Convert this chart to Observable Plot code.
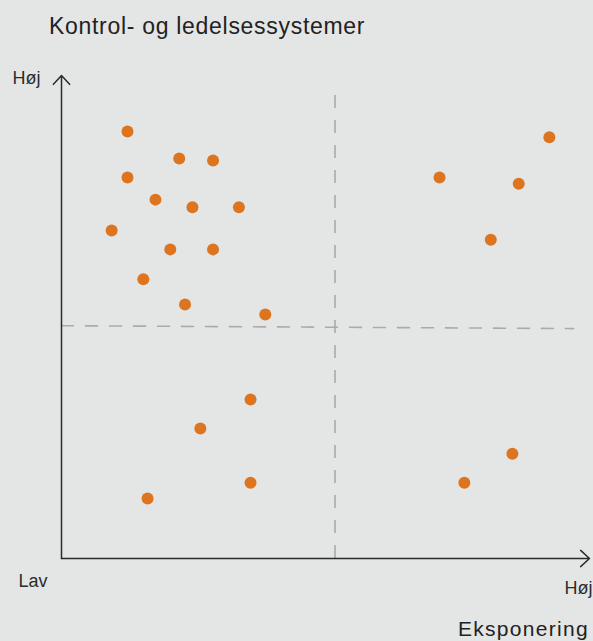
<!DOCTYPE html>
<html>
<head>
<meta charset="utf-8">
<script src="https://cdn.jsdelivr.net/npm/d3@7"></script>
<script src="https://cdn.jsdelivr.net/npm/@observablehq/plot@0.6"></script>
<style>
  html, body { margin: 0; padding: 0; background: #e4e6e5; }
  body { width: 593px; height: 641px; overflow: hidden; font-family: "Liberation Sans", Arial, sans-serif; color: #222; }
  #title { height: 50px; line-height: 50px; padding-top: 1px; padding-left: 49px; font-size: 23px; letter-spacing: 0.7px; box-sizing: border-box; }
  #chart { height: 560px; }
  #caption { height: 31px; padding-top: 7px; line-height: 24px; text-align: right; padding-right: 4px; font-size: 21px; letter-spacing: 1.3px; box-sizing: border-box; }
  svg { display: block; }
</style>
</head>
<body>
<div id="title">Kontrol- og ledelsessystemer</div>
<div id="chart"></div>
<div id="caption">Eksponering</div>
<script>
// Dot positions (0–100 on both axes: exposure, control/management systems)
const exposure = [12.5, 22.3, 28.7, 12.5, 17.8, 24.8, 33.6, 9.5, 20.6, 28.7, 15.5, 23.4, 38.6,
                  92.4, 71.6, 86.6, 81.3,
                  35.8, 26.3, 35.8, 16.3,
                  85.4, 76.3];
const control  = [88.4, 82.8, 82.4, 78.9, 74.3, 72.7, 72.7, 67.9, 64.0, 64.0, 57.8, 52.6, 50.5,
                  87.2, 78.9, 77.6, 66.0,
                  32.9, 26.9, 15.7, 12.4,
                  21.7, 15.7];
// Quadrant divider lines
const dividerX = 51.8;
const dividerXTop = 96.3;
const dividerHx = [0, 97];
const dividerHy = [48.2, 47.6];
// Axis end labels
const axisLabels = ["Høj", "Lav", "Høj"];

const points = exposure.map((x, i) => ({x, y: control[i]}));
const hLine = dividerHx.map((x, i) => ({x, y: dividerHy[i]}));

const dash = "#aaaaaa";
const ink = "#2b2b2b";

const chart = Plot.plot({
  width: 593,
  height: 560,
  margin: 0,
  style: {background: "transparent", fontFamily: "Liberation Sans, Arial, sans-serif"},
  x: {domain: [0, 100], range: [61, 589], axis: null},
  y: {domain: [0, 100], range: [508, 25], axis: null},
  marks: [
    Plot.line(hLine, {x: "x", y: "y", stroke: dash, strokeWidth: 1.6, strokeDasharray: "12,12"}),
    Plot.ruleX([dividerX], {y1: 0, y2: dividerXTop, stroke: dash, strokeWidth: 1.6, strokeDasharray: "13,12"}),
    Plot.arrow([{}], {x1: 0, y1: 0, x2: 0, y2: 100, stroke: ink, strokeWidth: 1.5, headLength: 12, headAngle: 85}),
    Plot.arrow([{}], {x1: 0, y1: 0, x2: 100, y2: 0, stroke: ink, strokeWidth: 1.5, headLength: 12, headAngle: 85}),
    Plot.dot(points, {x: "x", y: "y", r: 6, fill: "#dd7520", stroke: "none"}),
    Plot.text([axisLabels[0]], {x: 0, y: 100, text: d => d, textAnchor: "end", dx: -21, dy: 3, fontSize: 18, fill: ink}),
    Plot.text([axisLabels[1]], {x: 0, y: 0, text: d => d, textAnchor: "end", dx: -14, dy: 23, fontSize: 18, fill: ink}),
    Plot.text([axisLabels[2]], {x: 100, y: 0, text: d => d, textAnchor: "end", dx: 3, dy: 30, fontSize: 18, fill: ink})
  ]
});
document.getElementById("chart").appendChild(chart);
</script>
</body>
</html>
